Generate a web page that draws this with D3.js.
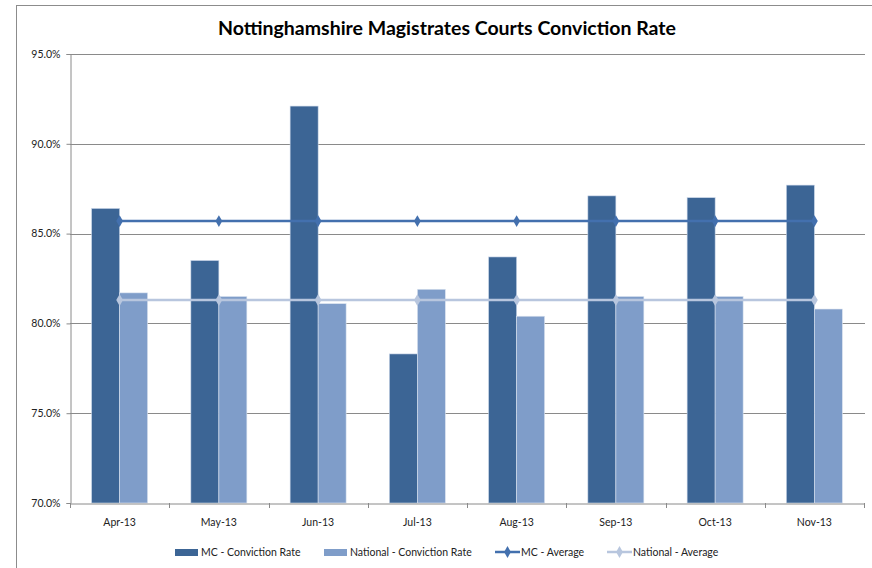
<!DOCTYPE html>
<html>
<meta charset="utf-8" />
<style>
  body { margin: 0; background: #fff; }
  text { font-family: Lato, "Liberation Sans", sans-serif; }
</style>
<svg width="872" height="568"></svg>
<script src="https://d3js.org/d3.v7.min.js"></script>
<script>
  const months = ["Apr-13", "May-13", "Jun-13", "Jul-13", "Aug-13", "Sep-13", "Oct-13", "Nov-13"];
  const mcRate = [86.4, 83.5, 92.1, 78.3, 83.7, 87.1, 87.0, 87.7];
  const nationalRate = [81.7, 81.5, 81.1, 81.9, 80.4, 81.5, 81.5, 80.8];
  const mcAverage = [85.7, 85.7, 85.7, 85.7, 85.7, 85.7, 85.7, 85.7];
  const nationalAverage = [81.3, 81.3, 81.3, 81.3, 81.3, 81.3, 81.3, 81.3];
  const yTicks = [70, 75, 80, 85, 90, 95];

  const colors = {
    mc: "#3C6595",
    national: "#7F9DC9",
    mcAvg: "#4370AE",
    natAvg: "#B8C6DE",
  };

  var svg = d3.select("svg");

  // chart frame
  svg.append("rect")
    .attr("x", 16.5).attr("y", 5.5)
    .attr("width", 900).attr("height", 600)
    .attr("fill", "none").attr("stroke", "#8c8c8c").attr("stroke-width", 1);

  svg.append("text")
    .attr("x", 447).attr("y", 35)
    .attr("text-anchor", "middle")
    .attr("font-size", 19.5).attr("font-weight", "bold")
    .attr("fill", "#000")
    .text("Nottinghamshire Magistrates Courts Conviction Rate");

  const plotLeft = 70, plotRight = 864, plotTop = 54, plotBottom = 503;

  var x = d3.scaleBand().domain(months).range([plotLeft, plotRight]);
  var y = d3.scaleLinear().domain([70, 95]).range([plotBottom, plotTop]);

  // gridlines
  svg.append("g").selectAll("line")
    .data(yTicks.slice(1))
    .join("line")
    .attr("x1", plotLeft).attr("x2", plotRight + 1)
    .attr("y1", (d) => Math.round(y(d)) + 0.5)
    .attr("y2", (d) => Math.round(y(d)) + 0.5)
    .attr("stroke", "#8a8a8a");

  // y axis
  var yAxis = svg.append("g")
    .attr("transform", `translate(${plotLeft + 0.5},0)`)
    .call(d3.axisLeft(y).tickValues(yTicks).tickSize(4).tickPadding(6)
      .tickFormat((d) => d.toFixed(1) + "%"));
  yAxis.select(".domain").attr("stroke", "#8a8a8a");
  yAxis.selectAll(".tick line").attr("stroke", "#8a8a8a");
  yAxis.selectAll(".tick text").attr("font-size", 10.5).attr("fill", "#222")
    .style("font-family", "Lato, 'Liberation Sans', sans-serif");

  // bars
  const barW = 28;
  var bars = svg.append("g");
  bars.selectAll("rect.mc")
    .data(months)
    .join("rect")
    .attr("class", "mc")
    .attr("x", (d) => x(d) + x.bandwidth() / 2 - barW)
    .attr("y", (d, i) => y(mcRate[i]))
    .attr("width", barW)
    .attr("height", (d, i) => y(70) - y(mcRate[i]))
    .attr("fill", colors.mc)
    .attr("stroke", "#c9d5e8").attr("stroke-width", 0.6);
  bars.selectAll("rect.nat")
    .data(months)
    .join("rect")
    .attr("class", "nat")
    .attr("x", (d) => x(d) + x.bandwidth() / 2)
    .attr("y", (d, i) => y(nationalRate[i]))
    .attr("width", barW)
    .attr("height", (d, i) => y(70) - y(nationalRate[i]))
    .attr("fill", colors.national)
    .attr("stroke", "#dce4f0").attr("stroke-width", 0.6);

  // x axis
  var xAxis = svg.append("g")
    .attr("transform", `translate(0,${plotBottom + 0.5})`)
    .call(d3.axisBottom(x).tickSize(0).tickPadding(15));
  xAxis.select(".domain").attr("stroke", "#8a8a8a");
  xAxis.selectAll(".tick text").attr("font-size", 10.5).attr("fill", "#222")
    .style("font-family", "Lato, 'Liberation Sans', sans-serif");
  svg.append("g").selectAll("line")
    .data(d3.range(months.length + 1))
    .join("line")
    .attr("x1", (i) => Math.round(plotLeft + i * x.step()) + 0.5)
    .attr("x2", (i) => Math.round(plotLeft + i * x.step()) + 0.5)
    .attr("y1", plotBottom).attr("y2", plotBottom + 5)
    .attr("stroke", "#8a8a8a");

  // average lines
  var diamond = d3.symbol().type(d3.symbolDiamond).size(40);
  function drawAverage(values, color) {
    var line = d3.line()
      .x((d, i) => x(months[i]) + x.bandwidth() / 2)
      .y((d) => y(d));
    var g = svg.append("g");
    g.append("path")
      .datum(values)
      .attr("d", line)
      .attr("fill", "none")
      .attr("stroke", color)
      .attr("stroke-width", 2.5);
    g.selectAll("path.pt")
      .data(values)
      .join("path")
      .attr("class", "pt")
      .attr("d", diamond)
      .attr("transform", (d, i) => `translate(${x(months[i]) + x.bandwidth() / 2},${y(d)})`)
      .attr("fill", color);
  }
  drawAverage(mcAverage, colors.mcAvg);
  drawAverage(nationalAverage, colors.natAvg);

  // legend
  var legend = svg.append("g").attr("font-size", 10.5).attr("fill", "#222");
  const legendItems = [
    { label: "MC - Conviction Rate", type: "bar", color: colors.mc, x: 175 },
    { label: "National - Conviction Rate", type: "bar", color: colors.national, x: 324 },
    { label: "MC - Average", type: "line", color: colors.mcAvg, x: 495 },
    { label: "National - Average", type: "line", color: colors.natAvg, x: 607 },
  ];
  const ly = 552;
  legendItems.forEach((item) => {
    if (item.type === "bar") {
      legend.append("rect")
        .attr("x", item.x).attr("y", ly - 3)
        .attr("width", 23).attr("height", 7)
        .attr("fill", item.color);
    } else {
      legend.append("line")
        .attr("x1", item.x).attr("x2", item.x + 25)
        .attr("y1", ly).attr("y2", ly)
        .attr("stroke", item.color).attr("stroke-width", 2.5);
      legend.append("path")
        .attr("d", diamond)
        .attr("transform", `translate(${item.x + 12.5},${ly})`)
        .attr("fill", item.color);
    }
    legend.append("text")
      .attr("x", item.x + 26).attr("y", ly + 4)
      .attr("fill", "#222")
      .text(item.label);
  });
</script>
</html>
